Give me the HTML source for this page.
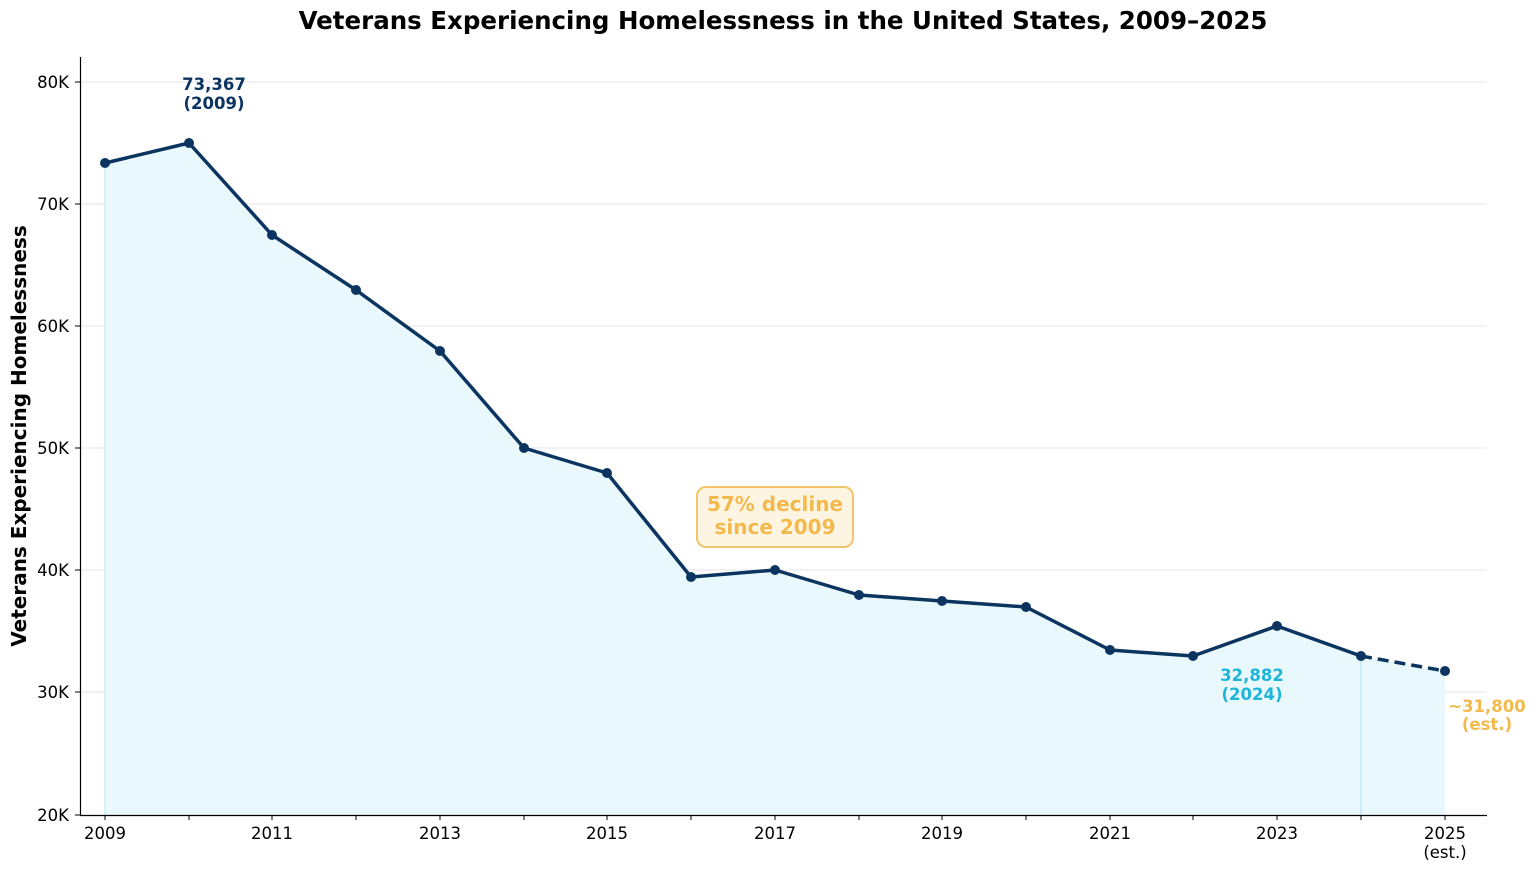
<!DOCTYPE html>
<html><head><meta charset="utf-8"><style>
html,body{margin:0;padding:0;background:#fff;}
svg{display:block;font-family:"DejaVu Sans","Liberation Sans",sans-serif;}
</style></head><body>
<svg width="1536" height="872" viewBox="0 0 1536 872" xmlns="http://www.w3.org/2000/svg">
<text x="783" y="29" text-anchor="middle" font-size="24.5" font-weight="bold" fill="#000">Veterans Experiencing Homelessness in the United States, 2009–2025</text>
<g stroke="#e3e6ea" stroke-width="1">
<line x1="81" x2="1487" y1="82" y2="82"/>
<line x1="81" x2="1487" y1="204" y2="204"/>
<line x1="81" x2="1487" y1="326" y2="326"/>
<line x1="81" x2="1487" y1="448" y2="448"/>
<line x1="81" x2="1487" y1="570" y2="570"/>
<line x1="81" x2="1487" y1="692" y2="692"/>
</g>
<polygon fill="#e9f8fc" points="105,815 105,163 189,143 272,235 356,290 440,351 524,448 607,473 691,577 775,570 859,595 942,601 1026,607 1110,650 1193,656 1277,626 1361,656 1445,671 1445,815"/>
<line x1="105" y1="163" x2="105" y2="815" stroke="#cdeef7" stroke-width="1.5"/>
<line x1="1361" y1="656" x2="1361" y2="815" stroke="#bfe8f3" stroke-width="1.5"/>
<polyline fill="none" stroke="#0b3560" stroke-width="3.5" stroke-linejoin="round" points="105,163 189,143 272,235 356,290 440,351 524,448 607,473 691,577 775,570 859,595 942,601 1026,607 1110,650 1193,656 1277,626 1361,656"/>
<line x1="1361" y1="656" x2="1445" y2="671" stroke="#0b3560" stroke-width="3.5" stroke-dasharray="11,6"/>
<g fill="#0b3560">
<circle cx="105" cy="163" r="5"/><circle cx="189" cy="143" r="5"/><circle cx="272" cy="235" r="5"/><circle cx="356" cy="290" r="5"/><circle cx="440" cy="351" r="5"/><circle cx="524" cy="448" r="5"/><circle cx="607" cy="473" r="5"/><circle cx="691" cy="577" r="5"/><circle cx="775" cy="570" r="5"/><circle cx="859" cy="595" r="5"/><circle cx="942" cy="601" r="5"/><circle cx="1026" cy="607" r="5"/><circle cx="1110" cy="650" r="5"/><circle cx="1193" cy="656" r="5"/><circle cx="1277" cy="626" r="5"/><circle cx="1361" cy="656" r="5"/><circle cx="1445" cy="671" r="5"/>
</g>
<line x1="80.5" y1="57" x2="80.5" y2="815" stroke="#000" stroke-width="1.2"/>
<line x1="80" y1="815.5" x2="1487" y2="815.5" stroke="#000" stroke-width="1.2"/>
<g stroke="#000" stroke-width="1">
<line x1="75" x2="80" y1="82" y2="82"/><line x1="75" x2="80" y1="204" y2="204"/><line x1="75" x2="80" y1="326" y2="326"/><line x1="75" x2="80" y1="448" y2="448"/><line x1="75" x2="80" y1="570" y2="570"/><line x1="75" x2="80" y1="692" y2="692"/><line x1="75" x2="80" y1="815" y2="815"/>
<line x1="105" x2="105" y1="815" y2="820"/><line x1="189" x2="189" y1="815" y2="820"/><line x1="272" x2="272" y1="815" y2="820"/><line x1="356" x2="356" y1="815" y2="820"/><line x1="440" x2="440" y1="815" y2="820"/><line x1="524" x2="524" y1="815" y2="820"/><line x1="607" x2="607" y1="815" y2="820"/><line x1="691" x2="691" y1="815" y2="820"/><line x1="775" x2="775" y1="815" y2="820"/><line x1="859" x2="859" y1="815" y2="820"/><line x1="942" x2="942" y1="815" y2="820"/><line x1="1026" x2="1026" y1="815" y2="820"/><line x1="1110" x2="1110" y1="815" y2="820"/><line x1="1193" x2="1193" y1="815" y2="820"/><line x1="1277" x2="1277" y1="815" y2="820"/><line x1="1361" x2="1361" y1="815" y2="820"/><line x1="1445" x2="1445" y1="815" y2="820"/>
</g>
<g font-size="16.5" fill="#000" text-anchor="end">
<text x="69" y="88">80K</text><text x="69" y="210">70K</text><text x="69" y="332">60K</text><text x="69" y="454">50K</text><text x="69" y="576">40K</text><text x="69" y="698">30K</text><text x="69" y="821">20K</text>
</g>
<g font-size="16.5" fill="#000" text-anchor="middle">
<text x="105" y="839">2009</text><text x="272" y="839">2011</text><text x="440" y="839">2013</text><text x="607" y="839">2015</text><text x="775" y="839">2017</text><text x="942" y="839">2019</text><text x="1110" y="839">2021</text><text x="1277" y="839">2023</text><text x="1445" y="839">2025</text><text x="1445" y="858">(est.)</text>
</g>
<text transform="translate(26,436) rotate(-90)" text-anchor="middle" font-size="20" font-weight="bold" fill="#000">Veterans Experiencing Homelessness</text>
<g font-size="16.5" font-weight="bold" text-anchor="middle">
<text x="214" y="90" fill="#0b3560">73,367</text><text x="214" y="109" fill="#0b3560">(2009)</text>
<text x="1252" y="681" fill="#1fb5d9">32,882</text><text x="1252" y="700" fill="#1fb5d9">(2024)</text>
<text x="1487" y="712" fill="#f3b94d">~31,800</text><text x="1487" y="730" fill="#f3b94d">(est.)</text>
</g>
<rect x="697" y="487" width="156" height="60" rx="9" fill="#fdf5e1" stroke="#f3c56a" stroke-width="2"/>
<g font-size="20" font-weight="bold" text-anchor="middle" fill="#f3b94d">
<text x="775" y="511">57% decline</text><text x="775" y="534">since 2009</text>
</g>
</svg>
</body></html>
